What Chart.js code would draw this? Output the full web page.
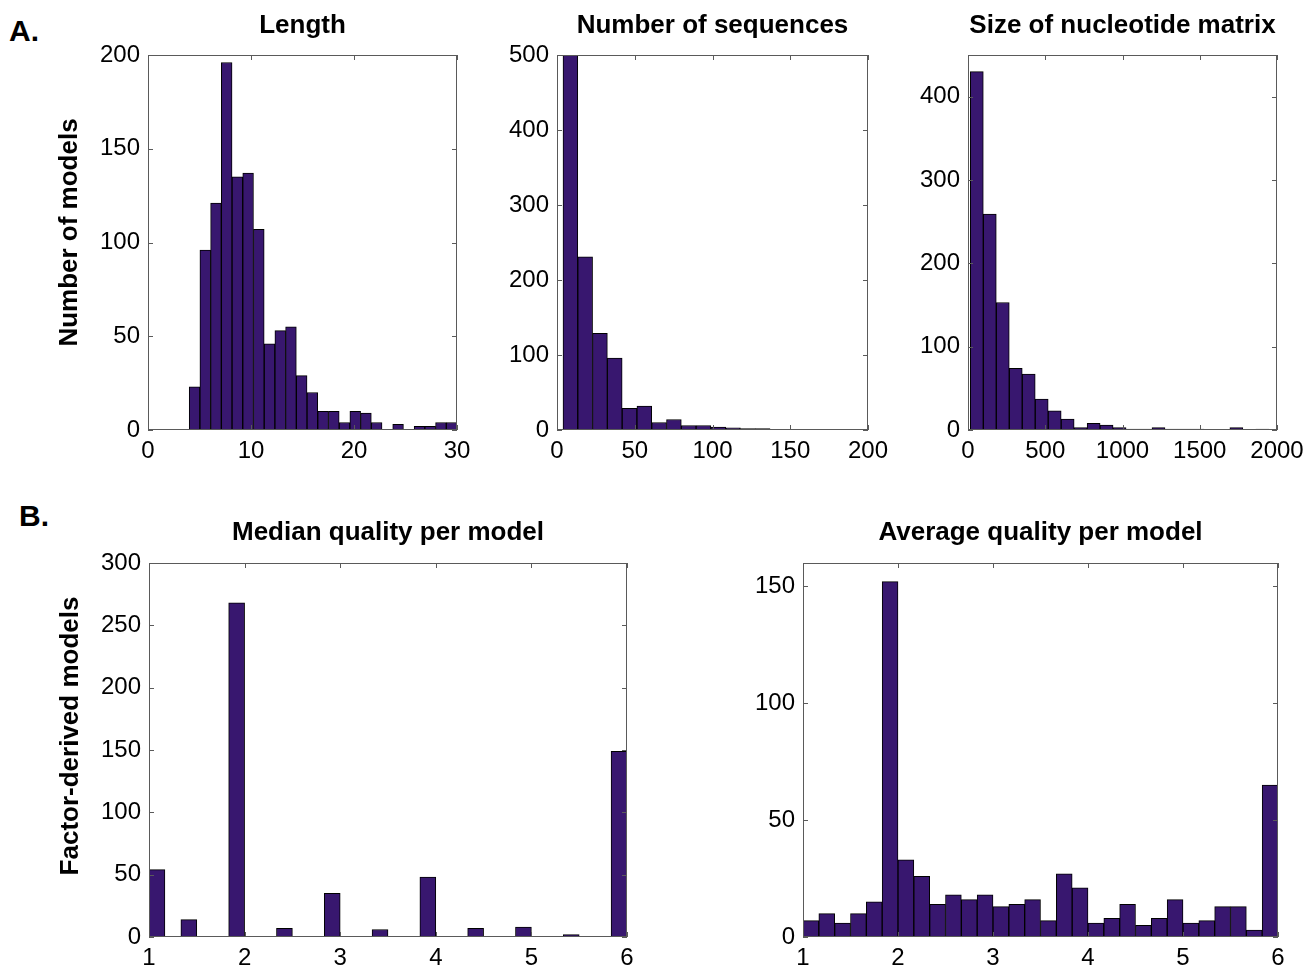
<!DOCTYPE html>
<html>
<head>
<meta charset="utf-8">
<script src="https://cdn.jsdelivr.net/npm/chart.js@4.4.0/dist/chart.umd.min.js"></script>
<style>
  body { margin: 0; background: #fff; width: 1307px; height: 968px; position: relative; overflow: hidden;
         font-family: "Liberation Sans", Arial, sans-serif; }
  .tag { position: absolute; font-weight: bold; font-size: 30px; line-height: 1; }
</style>
</head>
<body>
<div class="tag" style="left:9px;top:16px">A.</div>
<div class="tag" style="left:19px;top:501px">B.</div>
<script>
// --- data (bin centres and counts) ---
var lengthCenters = [4.52, 5.56, 6.6, 7.64, 8.68, 9.72, 10.76, 11.8, 12.84, 13.88, 14.92, 15.96, 17.0,
                     18.04, 19.08, 20.12, 21.16, 22.2, 23.24, 24.28, 25.32, 26.36, 27.4, 28.44, 29.48];
var lengthCounts = [23, 96, 121, 196, 135, 137, 107, 46, 53, 55, 29, 20, 10, 10, 4, 10, 9, 4, 0, 3, 0, 2, 2, 4, 4];
var lengthXTicks = [0, 10, 20, 30];
var lengthYTicks = [0, 50, 100, 150, 200];

var seqCenters = [8.61, 18.12, 27.63, 37.14, 46.65, 56.16, 65.67, 75.18, 84.69, 94.2,
                  103.71, 113.22, 122.73, 132.24, 141.75, 151.26, 160.77, 170.28, 179.79, 189.3];
var seqCounts = [560, 231, 129, 96, 29, 32, 10, 14, 6, 6, 4, 3, 2, 2, 1, 0, 0, 1, 1, 0];
var seqXTicks = [0, 50, 100, 150, 200];
var seqYTicks = [0, 100, 200, 300, 400, 500];

var nucCenters = [57, 141, 225, 309, 393, 477, 561, 645, 729, 813, 897, 981, 1065, 1149, 1233,
                  1317, 1401, 1485, 1569, 1653, 1737, 1821, 1905];
var nucCounts = [430, 259, 153, 74, 67, 37, 23, 13, 3, 8, 6, 3, 1, 1, 3, 1, 1, 1, 0, 0, 3, 0, 1];
var nucXTicks = [0, 500, 1000, 1500, 2000];
var nucYTicks = [0, 100, 200, 300, 400];

var qualityCenters = [1.0833, 1.25, 1.4167, 1.5833, 1.75, 1.9167, 2.0833, 2.25, 2.4167, 2.5833,
                      2.75, 2.9167, 3.0833, 3.25, 3.4167, 3.5833, 3.75, 3.9167, 4.0833, 4.25,
                      4.4167, 4.5833, 4.75, 4.9167, 5.0833, 5.25, 5.4167, 5.5833, 5.75, 5.9167];
var medianCounts = [54, 0, 14, 0, 0, 268, 0, 0, 7, 0, 0, 35, 0, 0, 6, 0, 0, 48, 0, 0, 7, 0, 0, 8, 0, 0, 2, 0, 0, 149];
var averageCounts = [7, 10, 6, 10, 15, 152, 33, 26, 14, 18, 16, 18, 13, 14, 16, 7, 27, 21, 6, 8,
                     14, 5, 8, 16, 6, 7, 13, 13, 3, 65];
var qualityXTicks = [1, 2, 3, 4, 5, 6];
var medianYTicks = [0, 50, 100, 150, 200, 250, 300];
var averageYTicks = [0, 50, 100, 150];

var FONT = '"Liberation Sans", Arial, Helvetica, sans-serif';
var BAR = '#38176f';
Chart.defaults.font.family = FONT;
Chart.defaults.color = '#000';

// matlab style frame with inward tick marks
var boxTicks = {
  id: 'boxTicks',
  afterDatasetsDraw: function (chart) {
    var ctx = chart.ctx, a = chart.chartArea, x = chart.scales.x, y = chart.scales.y;
    ctx.save();
    ctx.strokeStyle = '#5a5a5a';
    ctx.lineWidth = 1;
    ctx.strokeRect(Math.round(a.left) + 0.5, Math.round(a.top) + 0.5,
                   Math.round(a.width) - 1, Math.round(a.height) - 1);
    ctx.beginPath();
    x.ticks.forEach(function (t) {
      var px = Math.round(x.getPixelForValue(t.value)) + 0.5;
      ctx.moveTo(px, a.bottom); ctx.lineTo(px, a.bottom - 5);
      ctx.moveTo(px, a.top); ctx.lineTo(px, a.top + 5);
    });
    y.ticks.forEach(function (t) {
      var py = Math.round(y.getPixelForValue(t.value)) + 0.5;
      ctx.moveTo(a.left, py); ctx.lineTo(a.left + 5, py);
      ctx.moveTo(a.right, py); ctx.lineTo(a.right - 5, py);
    });
    ctx.stroke();
    ctx.restore();
  }
};

// rotated y axis label, sitting a little above the axis centre as in the figure
var yLabel = {
  id: 'yLabel',
  afterDraw: function (chart, args, opts) {
    if (!opts.text) return;
    var ctx = chart.ctx, a = chart.chartArea;
    ctx.save();
    ctx.translate(opts.x, (a.top + a.bottom) / 2 + opts.shift);
    ctx.rotate(-Math.PI / 2);
    ctx.font = 'bold 26px ' + FONT;
    ctx.fillStyle = '#000';
    ctx.textAlign = 'center';
    ctx.textBaseline = 'middle';
    ctx.fillText(opts.text, 0, 0);
    ctx.restore();
  }
};

function histogram(p) {
  var titleH = 4 + 26 + p.titleGap;
  var plotW = p.plot[2] - p.plot[0], plotH = p.plot[3] - p.plot[1];
  var w = p.yw + plotW + 34, h = titleH + plotH + 42;
  var canvas = document.createElement('canvas');
  canvas.width = w; canvas.height = h;
  canvas.style.cssText = 'position:absolute;left:' + (p.plot[0] - p.yw) + 'px;top:' + (p.plot[1] - titleH) +
                         'px;width:' + w + 'px;height:' + h + 'px';
  document.body.appendChild(canvas);

  new Chart(canvas, {
    type: 'bar',
    data: {
      datasets: [{
        data: p.centers.map(function (c, i) { return { x: c, y: p.counts[i] }; }),
        backgroundColor: BAR,
        borderColor: '#000',
        borderWidth: 1,
        borderSkipped: false,
        barPercentage: 1,
        categoryPercentage: 1,
        clip: 0
      }]
    },
    options: {
      responsive: false,
      maintainAspectRatio: false,
      devicePixelRatio: 1,
      animation: false,
      layout: { padding: { right: 34 } },
      plugins: {
        legend: { display: false },
        tooltip: { enabled: false },
        title: {
          display: true, text: p.title, fullSize: false,
          font: { size: 26, weight: 'bold', family: FONT, lineHeight: 1 },
          padding: { top: 4, bottom: p.titleGap }, color: '#000'
        },
        yLabel: { text: p.yTitle || '', x: 20, shift: p.yTitleShift || 0 }
      },
      scales: {
        x: {
          type: 'linear', min: p.xRange[0], max: p.xRange[1], offset: false,
          grid: { display: false, drawTicks: false }, border: { display: false },
          ticks: { font: { size: 24 }, padding: 7, maxRotation: 0, autoSkip: false,
                   callback: function (v) { return String(v); } },
          afterBuildTicks: function (s) { s.ticks = p.xTicks.map(function (v) { return { value: v }; }); },
          afterFit: function (s) { s.height = 42; s.paddingLeft = 0; s.paddingRight = 0; }
        },
        y: {
          min: 0, max: p.yMax,
          grid: { display: false, drawTicks: false }, border: { display: false },
          ticks: { font: { size: 24 }, padding: 8, callback: function (v) { return String(v); } },
          afterBuildTicks: function (s) { s.ticks = p.yTicks.map(function (v) { return { value: v }; }); },
          afterFit: function (s) { s.width = p.yw; s.paddingTop = 0; s.paddingBottom = 0; }
        }
      }
    },
    plugins: [boxTicks, yLabel]
  });
}

histogram({ title: 'Length', plot: [148, 55, 457, 430], yw: 98, titleGap: 16,
            centers: lengthCenters, counts: lengthCounts, xRange: [0, 30], xTicks: lengthXTicks,
            yMax: 200, yTicks: lengthYTicks, yTitle: 'Number of models', yTitleShift: -10 });
histogram({ title: 'Number of sequences', plot: [557, 55, 868, 430], yw: 62, titleGap: 16,
            centers: seqCenters, counts: seqCounts, xRange: [0, 200], xTicks: seqXTicks,
            yMax: 500, yTicks: seqYTicks });
histogram({ title: 'Size of nucleotide matrix', plot: [968, 55, 1277, 430], yw: 62, titleGap: 16,
            centers: nucCenters, counts: nucCounts, xRange: [0, 2000], xTicks: nucXTicks,
            yMax: 450, yTicks: nucYTicks });
histogram({ title: 'Median quality per model', plot: [149, 563, 627, 937], yw: 98, titleGap: 17,
            centers: qualityCenters, counts: medianCounts, xRange: [1, 6], xTicks: qualityXTicks,
            yMax: 300, yTicks: medianYTicks, yTitle: 'Factor-derived models', yTitleShift: -14 });
histogram({ title: 'Average quality per model', plot: [803, 563, 1278, 937], yw: 62, titleGap: 17,
            centers: qualityCenters, counts: averageCounts, xRange: [1, 6], xTicks: qualityXTicks,
            yMax: 160, yTicks: averageYTicks });
</script>
</body>
</html>
